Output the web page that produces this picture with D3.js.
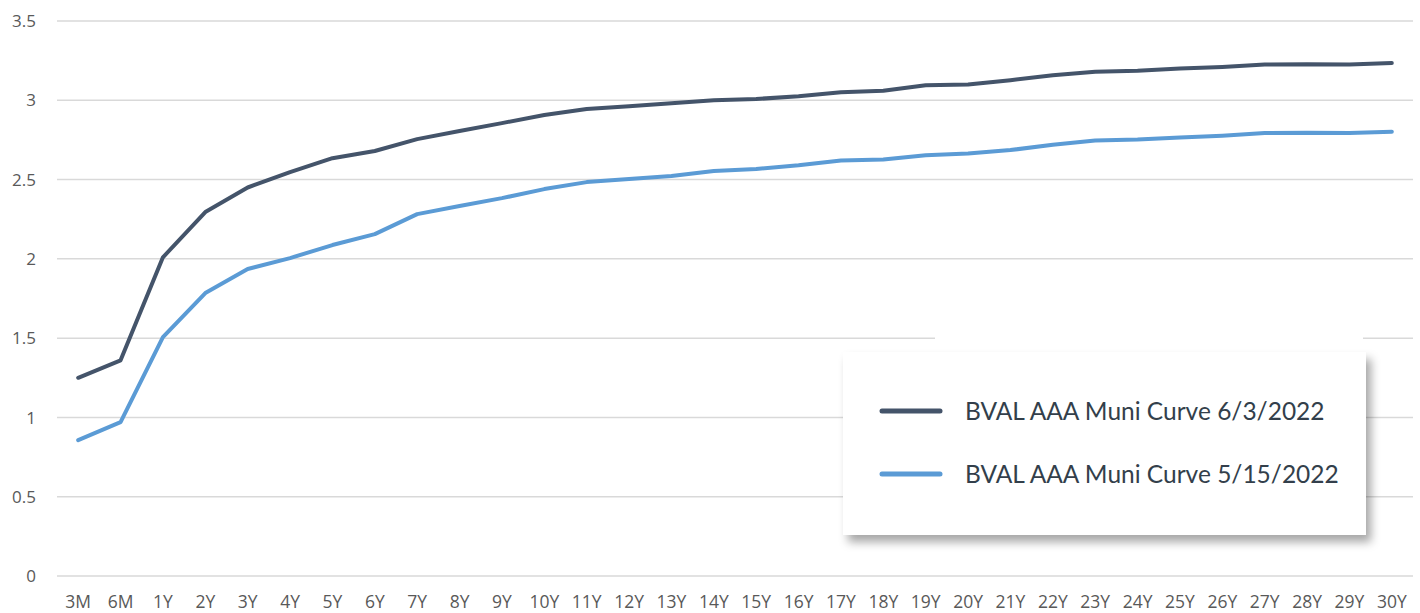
<!DOCTYPE html>
<html>
<head>
<meta charset="utf-8">
<script src="https://cdn.jsdelivr.net/npm/d3@7"></script>
<style>
  html, body { margin: 0; padding: 0; background: #fff; }
  svg { display: block; }
  .tick-y { font-family: "Open Sans", sans-serif; font-size: 17px; fill: #595959; }
  .tick-x { font-family: "Open Sans", sans-serif; font-size: 17.5px; fill: #595959; }
  .legend-text { font-family: Lato, sans-serif; font-size: 24.5px; fill: #333f4b; }
</style>
</head>
<body>
<div id="chart"></div>
<script>
const tenors = ["3M", "6M", "1Y", "2Y", "3Y", "4Y", "5Y", "6Y", "7Y", "8Y", "9Y", "10Y",
  "11Y", "12Y", "13Y", "14Y", "15Y", "16Y", "17Y", "18Y", "19Y", "20Y", "21Y", "22Y",
  "23Y", "24Y", "25Y", "26Y", "27Y", "28Y", "29Y", "30Y"];

const curveJun3 = [1.25, 1.36, 2.01, 2.295, 2.45, 2.547, 2.635, 2.68, 2.755, 2.806, 2.856, 2.907,
  2.945, 2.963, 2.982, 3.0, 3.008, 3.026, 3.05, 3.06, 3.095, 3.10, 3.127, 3.158,
  3.18, 3.187, 3.20, 3.21, 3.225, 3.228, 3.225, 3.235];

const curveMay15 = [0.857, 0.97, 1.507, 1.784, 1.936, 2.005, 2.087, 2.156, 2.282, 2.333, 2.383, 2.44,
  2.484, 2.503, 2.522, 2.554, 2.567, 2.59, 2.62, 2.626, 2.654, 2.664, 2.686, 2.72,
  2.746, 2.752, 2.765, 2.777, 2.793, 2.796, 2.793, 2.802];

const yTicks = [0, 0.5, 1, 1.5, 2, 2.5, 3, 3.5];

const series = [
  { name: "BVAL AAA Muni Curve 6/3/2022", values: curveJun3, color: "#44546a" },
  { name: "BVAL AAA Muni Curve 5/15/2022", values: curveMay15, color: "#5b9bd5" }
];

const width = 1420, height = 613;
const margin = { left: 57, right: 7, top: 21, bottom: 37 };

const svg = d3.select("#chart").append("svg")
  .attr("width", width)
  .attr("height", height);

const x = d3.scaleBand()
  .domain(tenors)
  .range([margin.left, width - margin.right]);

const y = d3.scaleLinear()
  .domain([0, 3.5])
  .range([height - margin.bottom, margin.top]);

// gridlines
svg.append("g")
  .selectAll("line")
  .data(yTicks)
  .enter().append("line")
  .attr("x1", margin.left)
  .attr("x2", width - margin.right)
  .attr("y1", d => y(d))
  .attr("y2", d => y(d))
  .attr("stroke", "#d9d9d9")
  .attr("stroke-width", 1.5);

// y labels
svg.append("g")
  .selectAll("text")
  .data(yTicks)
  .enter().append("text")
  .attr("class", "tick-y")
  .attr("x", 36)
  .attr("y", d => y(d))
  .attr("dy", "0.36em")
  .attr("text-anchor", "end")
  .text(d => d);

// x labels
svg.append("g")
  .selectAll("text")
  .data(tenors)
  .enter().append("text")
  .attr("class", "tick-x")
  .attr("x", d => x(d) + x.bandwidth() / 2)
  .attr("y", height - 5)
  .attr("text-anchor", "middle")
  .text(d => d);

const line = d3.line()
  .x((d, i) => x(tenors[i]) + x.bandwidth() / 2)
  .y(d => y(d));

svg.append("g")
  .selectAll("path")
  .data(series)
  .enter().append("path")
  .attr("d", d => line(d.values))
  .attr("fill", "none")
  .attr("stroke", d => d.color)
  .attr("stroke-width", 4)
  .attr("stroke-linejoin", "round")
  .attr("stroke-linecap", "round");

// legend box (pasted panel with drop shadow)
const defs = svg.append("defs");
const f = defs.append("filter").attr("id", "shadow")
  .attr("x", "-10%").attr("y", "-10%").attr("width", "130%").attr("height", "140%");
f.append("feDropShadow")
  .attr("dx", 5).attr("dy", 7).attr("stdDeviation", 5)
  .attr("flood-color", "#000").attr("flood-opacity", 0.35);

svg.append("rect")
  .attr("x", 935).attr("y", 330)
  .attr("width", 428).attr("height", 24)
  .attr("fill", "#fff");

svg.append("rect")
  .attr("x", 843).attr("y", 352)
  .attr("width", 523).attr("height", 183)
  .attr("fill", "#fff")
  .attr("filter", "url(#shadow)");

const legend = svg.append("g")
  .selectAll("g")
  .data(series)
  .enter().append("g")
  .attr("transform", (d, i) => `translate(882,${411 + i * 63})`);

legend.append("line")
  .attr("x1", 0).attr("x2", 58)
  .attr("stroke", d => d.color)
  .attr("stroke-width", 5)
  .attr("stroke-linecap", "round");

legend.append("text")
  .attr("class", "legend-text")
  .attr("x", 83)
  .attr("dy", "0.35em")
  .text(d => d.name);
</script>
</body>
</html>
